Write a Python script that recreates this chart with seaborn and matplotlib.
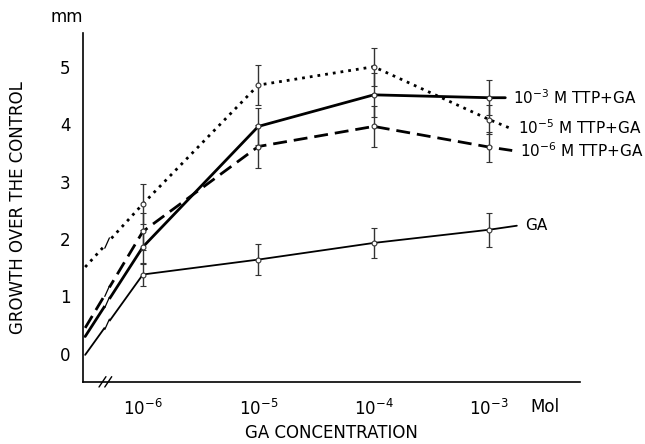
import matplotlib
matplotlib.use("Agg")
import matplotlib.pyplot as plt
import seaborn as sns
import pandas as pd
import numpy as np

sns.set_style("white")
plt.rcParams['font.family'] = ['DejaVu Sans']
plt.rcParams['text.color'] = 'black'
plt.rcParams['axes.labelcolor'] = 'black'
plt.rcParams['xtick.color'] = 'black'
plt.rcParams['ytick.color'] = 'black'

# log10 of GA concentration (Mol); -6.5 = start at the y axis, last = line extension
conc = [-6, -5, -4, -3]
tick_labels = [r"$10^{-6}$", r"$10^{-5}$", r"$10^{-4}$", r"$10^{-3}$"]

ttp3_x = [-6.5, -6, -5, -4, -3, -2.86]
ttp3_y = [0.30, 1.86, 3.96, 4.51, 4.46, 4.46]
ttp3_err = [0.30, 0.32, 0.38, 0.30]

ttp5_x = [-6.5, -6, -5, -4, -3, -2.82]
ttp5_y = [1.51, 2.61, 4.68, 5.00, 4.08, 3.93]
ttp5_err = [0.35, 0.35, 0.33, 0.25]

ttp6_x = [-6.5, -6, -5, -4, -3, -2.80]
ttp6_y = [0.45, 2.13, 3.61, 3.96, 3.60, 3.54]
ttp6_err = [0.32, 0.38, 0.35, 0.26]

ga_x = [-6.5, -6, -5, -4, -3, -2.76]
ga_y = [-0.02, 1.38, 1.64, 1.93, 2.16, 2.23]
ga_err = [0.20, 0.27, 0.26, 0.30]

series_names = [r"$10^{-3}$ M TTP+GA", r"$10^{-5}$ M TTP+GA", r"$10^{-6}$ M TTP+GA", "GA"]

fig = plt.figure(figsize=(6.45, 4.44), dpi=100)
ax = fig.add_axes([0.129, 0.140, 0.770, 0.786])

styles = [
    dict(x=ttp3_x, y=ttp3_y, err=ttp3_err, ls="-", lw=2.0),
    dict(x=ttp5_x, y=ttp5_y, err=ttp5_err, ls=(0, (1, 1.8)), lw=2.0),
    dict(x=ttp6_x, y=ttp6_y, err=ttp6_err, ls=(0, (5, 2.5)), lw=2.0),
    dict(x=ga_x, y=ga_y, err=ga_err, ls="-", lw=1.3),
]

break_x = -6.31
for s, name in zip(styles, series_names):
    df = pd.DataFrame({"conc": s["x"], "growth": s["y"]})
    sns.lineplot(data=df, x="conc", y="growth", ax=ax, color="black",
                 linestyle=s["ls"], linewidth=s["lw"], sort=False,
                 estimator=None, zorder=2)
    ax.errorbar(conc, s["y"][1:5], yerr=s["err"], fmt="o", ms=3.5,
                mfc="white", mec="#333333", mew=0.8, ecolor="#333333",
                elinewidth=1.0, capsize=2.5, capthick=1.0, zorder=3)
    ax.text(s["x"][-1] + 0.07, s["y"][-1], name, fontsize=11,
            va="center", ha="left")
    # break gap on each line
    yb = np.interp(break_x, s["x"][:2], s["y"][:2])
    xs = np.array([break_x - 0.02, break_x + 0.02])
    ax.plot(xs, np.interp(xs, s["x"][:2], s["y"][:2]), color="white",
            lw=4, solid_capstyle="butt", zorder=2.5)
    ax.plot([break_x - 0.02, break_x + 0.02], [yb - 0.09, yb + 0.09],
            color="black", lw=0.9, zorder=2.6)

ax.set_xlim(-6.517, -2.214)
ax.set_ylim(-0.49, 5.59)
ax.set_xticks(conc)
ax.set_xticklabels(tick_labels, fontsize=12)
ax.set_yticks([0, 1, 2, 3, 4, 5])
ax.set_yticklabels(["0", "1", "2", "3", "4", "5"], fontsize=12)
ax.tick_params(axis="y", direction="out", length=5, width=1, pad=4)
ax.tick_params(axis="x", direction="in", length=4, width=1, pad=12)
ax.set_xlabel("GA CONCENTRATION", fontsize=12, labelpad=4)
ax.set_ylabel("GROWTH OVER THE CONTROL", fontsize=12, labelpad=24)
for sp in ["top", "right"]:
    ax.spines[sp].set_visible(False)
for sp in ["left", "bottom"]:
    ax.spines[sp].set_color("black")
    ax.spines[sp].set_linewidth(1.2)

# axis break marks
for bx in (-6.35, -6.30):
    ax.plot([bx - 0.03, bx + 0.03], [-0.58, -0.40], color="black", lw=1.0,
            clip_on=False, zorder=4)

ax.text(-2.52, -0.93, "Mol", fontsize=12, ha="center", va="center")
ax.text(-6.66, 5.87, "mm", fontsize=12, ha="center", va="center")

fig.savefig("out.png", dpi=100)
